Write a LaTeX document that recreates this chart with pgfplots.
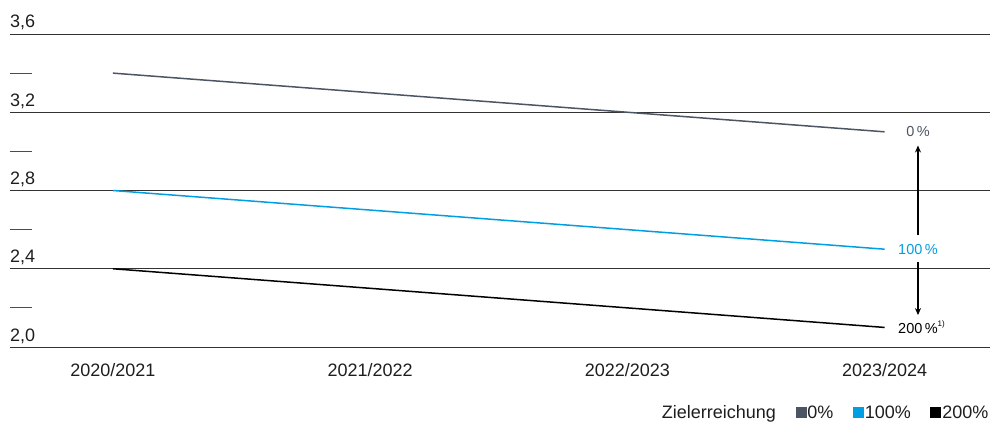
\documentclass[border=0pt]{standalone}
\usepackage{fontspec}
\setmainfont{Liberation Sans}
\usepackage{pgfplots}
\pgfplotsset{compat=1.18}
\usetikzlibrary{arrows.meta}
\definecolor{cA}{RGB}{75,85,99}
\definecolor{cB}{RGB}{0,159,227}
\definecolor{cC}{RGB}{0,0,0}
\definecolor{gridc}{RGB}{50,50,50}
\definecolor{txt}{RGB}{30,30,30}
\begin{document}
\begin{tikzpicture}
\useasboundingbox (-10bp,-76bp) rectangle (982bp,347bp);
\begin{axis}[
  at={(0,0)}, anchor=south west,
  scale only axis, width=980bp, height=313bp,
  xmin=-0.4, xmax=3.41, ymin=2, ymax=3.6,
  clip=false,
  axis line style={draw=none},
  xtick={0,1,2,3},
  xticklabels={2020/2021,2021/2022,2022/2023,2023/2024},
  ytick={2.0,2.4,2.8,3.2,3.6},
  minor ytick={2.2,2.6,3.0,3.4},
  ymajorgrids,
  major grid style={gridc, line width=0.8bp},
  tick align=inside, ytick pos=left,
  major tick length=0pt, minor tick length=22bp,
  minor tick style={black!70, line width=0.8bp},
  xtick style={draw=none},
  every tick label/.append style={font=\fontsize{18bp}{21bp}\selectfont, text=txt},
  yticklabel style={anchor=base west, inner sep=0pt, yshift=6bp},
  xticklabel style={anchor=base, inner sep=0pt, yshift=-29bp},
  legend columns=-1,
  legend cell align=left,
  legend style={at={(1,-0.211)}, anchor=east, draw=none, fill=none, inner sep=0pt,
    font=\fontsize{18bp}{21bp}\selectfont, text=txt,
    nodes={inner xsep=1.5bp, inner ysep=2bp},
    /tikz/every even column/.append style={column sep=18bp}},
  /pgf/number format/fixed,
  /pgf/number format/fixed zerofill,
  /pgf/number format/precision=1,
  /pgf/number format/use comma,
  /pgf/number format/assume math mode=true,
]
\addplot[cA, line width=1.5bp, forget plot] coordinates {(0,3.4) (1,3.3) (2,3.2) (3,3.1)};
\addplot[cB, line width=1.5bp, forget plot] coordinates {(0,2.8) (1,2.7) (2,2.6) (3,2.5)};
\addplot[cC, line width=1.5bp, forget plot] coordinates {(0,2.4) (1,2.3) (2,2.2) (3,2.1)};

\addlegendimage{empty legend}
\addlegendentry{Zielerreichung}
\addlegendimage{legend image code/.code={\fill[cA] (0bp,-4bp) rectangle (10bp,6bp);}}
\addlegendentry{0\%}
\addlegendimage{legend image code/.code={\fill[cB] (0bp,-4bp) rectangle (10bp,6bp);}}
\addlegendentry{100\%}
\addlegendimage{legend image code/.code={\fill[cC] (0bp,-4bp) rectangle (10bp,6bp);}}
\addlegendentry{200\%}

\node[text=cA, font=\fontsize{14.5bp}{16bp}\selectfont] at (axis cs:3.13,3.1) {0\,\%};
\node[text=cB, font=\fontsize{14.5bp}{16bp}\selectfont] at (axis cs:3.13,2.5) {100\,\%};
\node[text=cC, font=\fontsize{14.5bp}{16bp}\selectfont] at (axis cs:3.13,2.1) {200\,\%\rlap{\raisebox{0.5em}{\fontsize{8bp}{9bp}\selectfont 1)}}};
\draw[-{Stealth[length=7bp,width=6bp]}, line width=1.2bp] (axis cs:3.13,2.572) -- (axis cs:3.13,3.03);
\draw[-{Stealth[length=7bp,width=6bp]}, line width=1.2bp] (axis cs:3.13,2.434) -- (axis cs:3.13,2.163);
\end{axis}
\end{tikzpicture}
\end{document}
